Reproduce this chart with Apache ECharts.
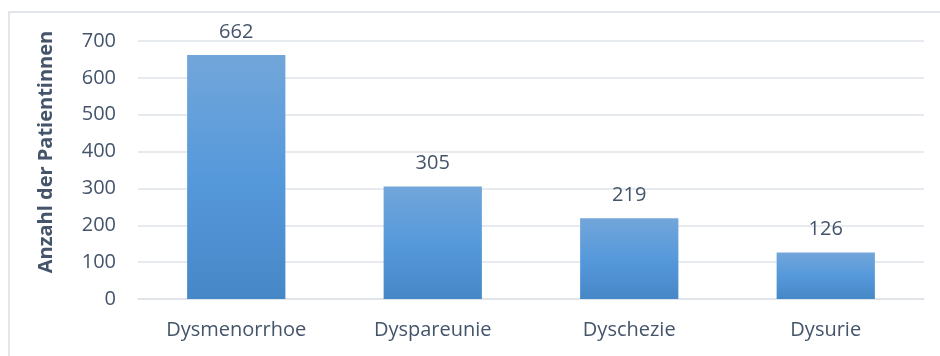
<!DOCTYPE html>
<html>
<head>
<meta charset="utf-8">
<script src="https://cdn.jsdelivr.net/npm/echarts@6/dist/echarts.min.js"></script>
<style>
  html, body { margin: 0; padding: 0; background: #ffffff; }
  #chart { width: 940px; height: 356px; }
</style>
</head>
<body>
<div id="chart"></div>
<script>
// Symptom categories and patient counts
const categories = ['Dysmenorrhoe', 'Dyspareunie', 'Dyschezie', 'Dysurie'];
const patientCounts = [662, 305, 219, 126];
const yAxisTitle = 'Anzahl der Patientinnen';

const textColor = '#44546a';
const gridColor = '#dfe3e8';
const fontFamily = '"Open Sans", "DejaVu Sans", sans-serif';

const chart = echarts.init(document.getElementById('chart'), null, { renderer: 'canvas' });

chart.setOption({
  animation: false,
  backgroundColor: '#ffffff',
  grid: { left: 138, right: 16, top: 41, bottom: 57 },
  xAxis: {
    type: 'category',
    data: categories,
    axisLine: { show: true, lineStyle: { color: gridColor, width: 1.5 } },
    axisTick: { show: false },
    axisLabel: { color: textColor, fontFamily: fontFamily, fontSize: 20, margin: 21 }
  },
  yAxis: {
    type: 'value',
    min: 0,
    max: 700,
    interval: 100,
    axisLine: { show: false },
    axisTick: { show: false },
    axisLabel: { color: textColor, fontFamily: fontFamily, fontSize: 20, margin: 22 },
    splitLine: { show: true, lineStyle: { color: gridColor, width: 1.5 } }
  },
  series: [{
    type: 'bar',
    data: patientCounts,
    barWidth: '50%',
    itemStyle: {
      color: new echarts.graphic.LinearGradient(0, 0, 0, 1, [
        { offset: 0, color: '#72a6da' },
        { offset: 0.5, color: '#5699db' },
        { offset: 1, color: '#4687c7' }
      ])
    },
    label: {
      show: true,
      position: 'top',
      distance: 13,
      color: textColor,
      fontFamily: fontFamily,
      fontSize: 20
    }
  }],
  graphic: [
    {
      type: 'rect',
      silent: true,
      shape: { x: 9, y: 12, width: 960, height: 400 },
      style: { fill: 'none', stroke: '#d9dee4', lineWidth: 1.5 }
    },
    {
      type: 'text',
      silent: true,
      x: 46,
      y: 152,
      rotation: Math.PI / 2,
      style: {
        text: yAxisTitle,
        fill: textColor,
        font: 'bold 20px "Open Sans", "DejaVu Sans", sans-serif',
        textAlign: 'center',
        textVerticalAlign: 'middle'
      }
    }
  ]
});
</script>
</body>
</html>
